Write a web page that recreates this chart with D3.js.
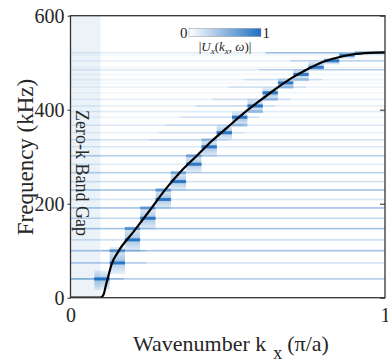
<!DOCTYPE html>
<html>
<head>
<meta charset="utf-8">
<script src="https://cdn.jsdelivr.net/npm/d3@7"></script>
<style>
  html, body { margin: 0; padding: 0; background: #fff; }
  svg { display: block; font-family: "Liberation Serif", "Times New Roman", serif; }
</style>
</head>
<body>
<svg id="chart" width="388" height="364"></svg>
<script>
// mode lines of the spectrum: frequency (kHz) and intensity across the whole kx range
const rowFreq = [40, 74, 100, 123, 147, 169, 191, 209, 229, 247, 266, 284, 302, 321, 336, 351, 367, 384, 396, 408, 422, 436, 448, 457, 464, 475, 485, 490, 504, 516, 521];
const rowLevel = [0.35, 0.2, 0.4, 0.22, 0.42, 0.28, 0.42, 0.18, 0.42, 0.2, 0.32, 0.14, 0.34, 0.14, 0.2, 0.1, 0.14, 0.08, 0.14, 0.12, 0.1, 0.06, 0.08, 0.05, 0.1, 0.06, 0.14, 0.06, 0.1, 0.06, 0.12];

// stretches of some lines that are stronger than the rest
const wingFreq = [40, 74, 100, 521, 504, 485, 464, 448, 422, 408, 384, 367, 351, 336];
const wingK0 = [0.0, 0.0, 0.1, 0.62, 0.7, 0.6, 0.55, 0.5, 0.45, 0.4, 0.35, 0.3, 0.28, 0.25];
const wingK1 = [0.17, 0.24, 0.24, 1.0, 1.0, 1.0, 0.8, 0.75, 0.7, 0.65, 0.6, 0.55, 0.55, 0.5];
const wingLevel = [0.3, 0.2, 0.2, 0.35, 0.22, 0.2, 0.15, 0.15, 0.15, 0.15, 0.15, 0.12, 0.12, 0.12];

// kx bins (centres) and the frequency blocks lit in each bin
const binKx = [0.100, 0.149, 0.197, 0.246, 0.295, 0.343, 0.392, 0.441, 0.489, 0.538, 0.587, 0.635, 0.684, 0.733, 0.781, 0.830, 0.879, 0.927, 0.976];
const binWidth = 0.0486;
const blockLo = [16, 50, 97, 145, 188, 229, 266, 300, 336, 366, 393, 421, 446, 465, 485, 496, 508];
const blockHi = [58, 108, 152, 193, 233, 268, 304, 337, 368, 396, 423, 447, 468, 486, 502, 511, 521];

// bright cells: bin index, frequency, level
const peakBin = [0, 1, 1, 2, 2, 3, 3, 4, 4, 5, 5, 6, 6, 7, 7, 8, 9, 9, 10, 10, 11, 11, 12, 12, 13, 13, 14, 15, 16, 17, 18];
const peakFreq = [40, 74, 100, 123, 147, 169, 191, 209, 229, 247, 266, 284, 302, 321, 336, 351, 384, 367, 408, 396, 436, 422, 457, 448, 475, 464, 490, 504, 516, 521, 521];
const peakLevel = [0.95, 0.9, 0.55, 0.9, 0.6, 0.9, 0.55, 0.9, 0.55, 0.9, 0.45, 0.9, 0.45, 0.9, 0.3, 0.9, 0.9, 0.3, 0.9, 0.3, 0.9, 0.3, 0.85, 0.3, 0.85, 0.3, 0.85, 0.85, 0.8, 0.5, 0.45];

// dispersion curve
const curveKx = [0, 0.095, 0.100, 0.106, 0.112, 0.120, 0.130, 0.152, 0.20, 0.25, 0.30, 0.35, 0.40, 0.45, 0.50, 0.55, 0.60, 0.65, 0.70, 0.75, 0.80, 0.85, 0.90, 0.95, 1.0];
const curveFreq = [0, 0, 2, 8, 25, 45, 70, 98, 140, 184, 229, 268, 301, 334, 363, 392, 418, 443, 466, 485, 501, 511, 518, 521, 522];

const gapEnd = 0.095;
const yTicks = [0, 200, 400, 600];
const xTicks = [0, 1];

const blue = '#1f6fc1';
const ink = '#262626';

const svg = d3.select('#chart');
const x = d3.scaleLinear().domain([0, 1]).range([70.5, 385]);
const y = d3.scaleLinear().domain([0, 600]).range([297.7, 15.7]);

const defs = svg.append('defs');
defs.append('clipPath').attr('id', 'plot-clip')
  .append('rect').attr('x', x(0)).attr('y', y(600)).attr('width', x(1) - x(0)).attr('height', y(0) - y(600));
const fade = defs.append('linearGradient').attr('id', 'block-fade').attr('x1', 0).attr('y1', 0).attr('x2', 0).attr('y2', 1);
fade.append('stop').attr('offset', 0).attr('stop-color', blue).attr('stop-opacity', 0.1);
fade.append('stop').attr('offset', 0.5).attr('stop-color', blue).attr('stop-opacity', 0.4);
fade.append('stop').attr('offset', 1).attr('stop-color', blue).attr('stop-opacity', 0.1);
const cbGrad = defs.append('linearGradient').attr('id', 'cb-grad');
cbGrad.append('stop').attr('offset', 0).attr('stop-color', '#ffffff');
cbGrad.append('stop').attr('offset', 1).attr('stop-color', blue);

const plot = svg.append('g').attr('clip-path', 'url(#plot-clip)');

// zero-k band gap shading
plot.append('rect').attr('x', x(0)).attr('y', y(600)).attr('width', x(gapEnd) - x(0)).attr('height', y(0) - y(600)).attr('fill', '#ebf3f9');

// blocks
plot.append('g').selectAll('rect')
  .data(blockLo.map((lo, i) => ({ k: binKx[i], lo, hi: blockHi[i] })))
  .join('rect')
  .attr('x', (d) => x(d.k - binWidth / 2))
  .attr('width', x(binWidth) - x(0))
  .attr('y', (d) => y(d.hi))
  .attr('height', (d) => y(d.lo) - y(d.hi))
  .attr('fill', 'url(#block-fade)');

// full-width mode lines
plot.append('g').selectAll('rect')
  .data(rowFreq.map((f, i) => ({ f, v: rowLevel[i] })))
  .join('rect')
  .attr('x', x(0))
  .attr('width', x(1) - x(0))
  .attr('y', (d) => y(d.f) - 0.8)
  .attr('height', 1.6)
  .attr('fill', blue)
  .attr('fill-opacity', (d) => d.v);

// stronger stretches
plot.append('g').selectAll('rect')
  .data(wingFreq.map((f, i) => ({ f, k0: wingK0[i], k1: wingK1[i], v: wingLevel[i] })))
  .join('rect')
  .attr('x', (d) => x(d.k0))
  .attr('width', (d) => x(d.k1) - x(d.k0))
  .attr('y', (d) => y(d.f) - 0.8)
  .attr('height', 1.6)
  .attr('fill', blue)
  .attr('fill-opacity', (d) => d.v);

// bright cells
plot.append('g').selectAll('rect')
  .data(peakBin.map((b, i) => ({ k: binKx[b], f: peakFreq[i], v: peakLevel[i] })))
  .join('rect')
  .attr('x', (d) => x(d.k - binWidth / 2))
  .attr('width', x(binWidth) - x(0))
  .attr('y', (d) => y(d.f) - 1.5)
  .attr('height', 3)
  .attr('fill', blue)
  .attr('fill-opacity', (d) => d.v);

// dispersion curve
const line = d3.line().x((d) => x(d[0])).y((d) => y(d[1])).curve(d3.curveMonotoneX);
plot.append('path')
  .attr('d', line(curveKx.map((k, i) => [k, curveFreq[i]])))
  .attr('fill', 'none')
  .attr('stroke', '#000')
  .attr('stroke-width', 2.2)
  .attr('stroke-linejoin', 'round');

// axes
const left = svg.append('g').attr('transform', `translate(${x(0)},0)`)
  .call(d3.axisLeft(y).tickValues(yTicks).tickSize(3).tickPadding(3));
const right = svg.append('g').attr('transform', `translate(${x(1)},0)`)
  .call(d3.axisRight(y).tickValues(yTicks).tickSize(-5).tickFormat(''));
const bottom = svg.append('g').attr('transform', `translate(0,${y(0)})`)
  .call(d3.axisBottom(x).tickValues(xTicks).tickSize(0).tickPadding(10).tickFormat(d3.format('d')));
[left, right, bottom].forEach((g) => {
  g.select('.domain').remove();
  g.selectAll('line').attr('stroke', ink).attr('stroke-width', 1);
  g.selectAll('text').attr('fill', ink).attr('font-size', 20).attr('font-family', '"Liberation Serif", "Times New Roman", serif');
});
svg.append('rect')
  .attr('x', x(0)).attr('y', y(600))
  .attr('width', x(1) - x(0)).attr('height', y(0) - y(600))
  .attr('fill', 'none').attr('stroke', '#333').attr('stroke-width', 1.3);

// band gap label
svg.append('text')
  .attr('transform', 'translate(75.5,110) rotate(90)')
  .attr('font-size', 18)
  .attr('fill', ink)
  .text('Zero-k Band Gap');

// colorbar
const cb = d3.scaleLinear().domain([0, 1]).range([189, 261]);
svg.append('rect').attr('x', cb(0)).attr('y', 28.3).attr('width', cb(1) - cb(0)).attr('height', 8.4)
  .attr('fill', 'url(#cb-grad)').attr('stroke', '#9a9a9a').attr('stroke-width', 0.5);
svg.append('text').attr('x', cb(0) - 1.5).attr('y', 37.5).attr('text-anchor', 'end').attr('font-size', 15).attr('fill', ink).text('0');
svg.append('text').attr('x', cb(1) + 1.5).attr('y', 37.5).attr('text-anchor', 'start').attr('font-size', 15).attr('fill', ink).text('1');
const cbLabel = svg.append('text').attr('x', cb(0.5)).attr('y', 51).attr('text-anchor', 'middle').attr('font-size', 13).attr('fill', ink);
cbLabel.append('tspan').text('|');
cbLabel.append('tspan').attr('font-style', 'italic').text('U');
cbLabel.append('tspan').attr('font-style', 'italic').attr('font-size', 9).attr('dy', 3).text('x');
cbLabel.append('tspan').attr('dy', -3).text('(');
cbLabel.append('tspan').attr('font-style', 'italic').text('k');
cbLabel.append('tspan').attr('font-style', 'italic').attr('font-size', 9).attr('dy', 3).text('x');
cbLabel.append('tspan').attr('dy', -3).text(', ');
cbLabel.append('tspan').attr('font-style', 'italic').text('ω');
cbLabel.append('tspan').text(')|');

// axis titles
svg.append('text')
  .attr('transform', 'translate(32.5,157) rotate(-90)')
  .attr('text-anchor', 'middle')
  .attr('font-size', 23)
  .attr('fill', ink)
  .text('Frequency (kHz)');
const xTitle = svg.append('text').attr('x', 133).attr('y', 351).attr('font-size', 22).attr('fill', ink);
xTitle.append('tspan').text('Wavenumber k');
xTitle.append('tspan').attr('dx', 7).attr('dy', 8).attr('font-size', 18).text('x');
xTitle.append('tspan').attr('dx', 5).attr('dy', -8).text('(π/a)');
</script>
</body>
</html>
